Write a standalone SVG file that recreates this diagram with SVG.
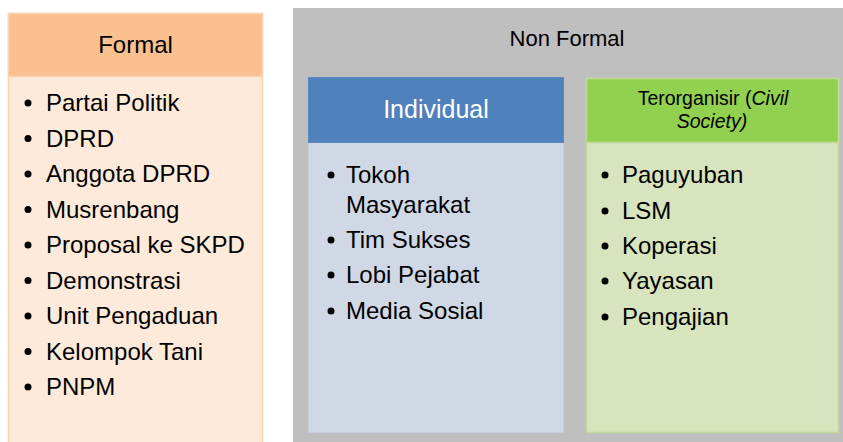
<svg xmlns="http://www.w3.org/2000/svg" width="843" height="442" viewBox="0 0 843 442">
<style>
text{font-family:"Liberation Sans",Arial,sans-serif;fill:#000}
.item{font-size:24px}
.hd{font-size:24px;text-anchor:middle}
.sub{font-size:19.5px;text-anchor:middle}
.b{fill:#000}
</style>
<rect width="843" height="442" fill="#fff"/>
<g id="formal">
<rect x="8.5" y="13.5" width="254" height="440" fill="#FDEADA" stroke="#FAD3B3" stroke-width="1.5"/>
<rect x="8.5" y="13.5" width="254" height="63" fill="#FAC090" stroke="#FAD3B3" stroke-width="1.5"/>
<text class="hd" x="135.5" y="53">Formal</text>
<g class="item">
<circle class="b" cx="28" cy="103" r="3.5"/><text x="46" y="111">Partai Politik</text>
<circle class="b" cx="28" cy="138.5" r="3.5"/><text x="46" y="146.5">DPRD</text>
<circle class="b" cx="28" cy="174" r="3.5"/><text x="46" y="182">Anggota DPRD</text>
<circle class="b" cx="28" cy="209.5" r="3.5"/><text x="46" y="217.5">Musrenbang</text>
<circle class="b" cx="28" cy="245" r="3.5"/><text x="46" y="253">Proposal ke SKPD</text>
<circle class="b" cx="28" cy="280.5" r="3.5"/><text x="46" y="288.5">Demonstrasi</text>
<circle class="b" cx="28" cy="316" r="3.5"/><text x="46" y="324">Unit Pengaduan</text>
<circle class="b" cx="28" cy="351.5" r="3.5"/><text x="46" y="359.5">Kelompok Tani</text>
<circle class="b" cx="28" cy="387" r="3.5"/><text x="46" y="395">PNPM</text>
</g>
</g>
<g id="nonformal">
<rect x="293" y="8" width="560" height="445" fill="#BFBFBF"/>
<text x="567" y="46" style="font-size:22px;text-anchor:middle">Non Formal</text>
</g>
<g id="individual">
<rect x="308.5" y="77.5" width="255" height="355" fill="#D0D8E6" stroke="#C6CEDC" stroke-width="1"/>
<rect x="308.5" y="77.5" width="255" height="65" fill="#4F81BD" stroke="#5B8AC2" stroke-width="1"/>
<text class="hd" x="436" y="118" style="fill:#fff;font-size:25px">Individual</text>
<g class="item">
<circle class="b" cx="331" cy="175" r="3.5"/><text x="346" y="183">Tokoh</text>
<text x="346" y="213">Masyarakat</text>
<circle class="b" cx="331" cy="240" r="3.5"/><text x="346" y="248">Tim Sukses</text>
<circle class="b" cx="331" cy="275" r="3.5"/><text x="346" y="283">Lobi Pejabat</text>
<circle class="b" cx="331" cy="311" r="3.5"/><text x="346" y="319">Media Sosial</text>
</g>
</g>
<g id="terorganisir">
<rect x="586.5" y="78.5" width="252" height="354" fill="#D7E4BD" stroke="#C3D89B" stroke-width="1.5"/>
<rect x="586.5" y="78.5" width="252" height="64" fill="#92D050" stroke="#C3D89B" stroke-width="1.5"/>
<text class="sub" x="713" y="105">Terorganisir (<tspan font-style="italic">Civil</tspan></text>
<text class="sub" x="712" y="128" font-style="italic">Society)</text>
<g class="item">
<circle class="b" cx="605" cy="175" r="3.5"/><text x="622" y="183">Paguyuban</text>
<circle class="b" cx="605" cy="211" r="3.5"/><text x="622" y="219">LSM</text>
<circle class="b" cx="605" cy="246" r="3.5"/><text x="622" y="254">Koperasi</text>
<circle class="b" cx="605" cy="281" r="3.5"/><text x="622" y="289">Yayasan</text>
<circle class="b" cx="605" cy="317" r="3.5"/><text x="622" y="325">Pengajian</text>
</g>
</g>
<g id="connectors"></g>
</svg>
